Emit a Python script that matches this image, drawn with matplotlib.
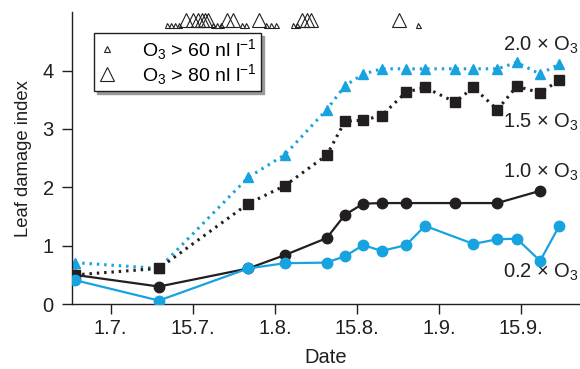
"""Leaf damage index vs date for four ozone treatments (recreated figure)."""
import numpy as np
import matplotlib
matplotlib.use("Agg")
import matplotlib.pyplot as plt
import matplotlib.transforms as mtransforms
from matplotlib.lines import Line2D

plt.rcParams["font.family"] = ["Liberation Sans", "DejaVu Sans"]
plt.rcParams["mathtext.fontset"] = "custom"
plt.rcParams["mathtext.rm"] = "Liberation Sans"
plt.rcParams["mathtext.it"] = "Liberation Sans:italic"

# ── data ──────────────────────────────────────────────────────────────────────
# x positions in half-month units (0 = 1.7., 1 = 15.7., ...)
TICK_LABELS = ["1.7.", "15.7.", "1.8.", "15.8.", "1.9.", "15.9."]

X_ALL = [-0.435, 0.588, 1.676, 2.123, 2.631, 2.854, 3.077, 3.301,
         3.597, 3.828, 4.194, 4.417, 4.709, 4.945, 5.229, 5.460]

Y_20 = [0.71, 0.61, 2.17, 2.56, 3.33, 3.74, 3.94, 4.03,
        4.03, 4.03, 4.03, 4.03, 4.03, 4.14, 3.94, 4.11]
Y_15 = [0.50, 0.61, 1.72, 2.03, 2.55, 3.13, 3.15, 3.23,
        3.63, 3.71, 3.46, 3.71, 3.33, 3.73, 3.62, 3.83]

X_10 = [-0.435, 0.588, 1.676, 2.123, 2.631, 2.854, 3.077, 3.301,
        3.597, 4.194, 4.709, 5.229]
Y_10 = [0.50, 0.30, 0.61, 0.84, 1.13, 1.53, 1.72, 1.73,
        1.73, 1.73, 1.73, 1.94]

X_02 = [-0.435, 0.588, 1.676, 2.123, 2.631, 2.854, 3.077, 3.301,
        3.597, 3.828, 4.417, 4.709, 4.945, 5.229, 5.460]
Y_02 = [0.41, 0.06, 0.61, 0.70, 0.71, 0.82, 1.01, 0.91,
        1.01, 1.34, 1.03, 1.11, 1.12, 0.74, 1.33]

# days with ozone exceedances
O3_60 = [0.682, 0.731, 0.780, 0.828, 1.250, 1.298, 1.347, 1.596, 1.648,
         1.892, 1.953, 2.014, 2.224, 2.273, 3.747]
O3_80 = [0.917, 1.006, 1.067, 1.108, 1.149, 1.189, 1.413, 1.493, 1.810,
         2.326, 2.387, 2.436, 3.515]

CYAN = "#17a2e0"
DARK = "#231f20"
FS = 14.5

fig = plt.figure(figsize=(5.8, 3.69), dpi=100)
ax = fig.add_axes([0.124, 0.176, 0.876, 0.791])

dot = (0, (0.8, 1.6))
ax.plot(X_ALL, Y_20, color=CYAN, lw=2.2, ls=dot, marker="^", ms=7.5,
        mec=CYAN, mfc=CYAN, zorder=2)
ax.plot(X_ALL, Y_15, color=DARK, lw=2.2, ls=dot, marker="s", ms=6.5,
        mec=DARK, mfc=DARK, zorder=3)
ax.plot(X_10, Y_10, color=DARK, lw=1.6, marker="o", ms=7.5,
        mec=DARK, mfc=DARK, zorder=4)
ax.plot(X_02, Y_02, color=CYAN, lw=1.6, marker="o", ms=7.5,
        mec=CYAN, mfc=CYAN, zorder=5)

# ozone exceedance markers along the top
trans = mtransforms.blended_transform_factory(ax.transData, ax.transAxes)
ax.plot(O3_60, [0.957] * len(O3_60), ls="none", marker="^", ms=3.6,
        mfc="white", mec=DARK, mew=0.8, transform=trans, clip_on=False)
ax.plot(O3_80, [0.974] * len(O3_80), ls="none", marker="^", ms=10,
        mfc="none", mec=DARK, mew=0.8, transform=trans, clip_on=False)

# series labels
lab_kw = dict(ha="right", va="center", fontsize=FS, color=DARK)
ax.text(5.70, 4.43, "2.0 × O$_3$", **lab_kw)
ax.text(5.70, 3.11, "1.5 × O$_3$", **lab_kw)
ax.text(5.70, 2.26, "1.0 × O$_3$", **lab_kw)
ax.text(5.70, 0.55, "0.2 × O$_3$", **lab_kw)

handles = [
    Line2D([], [], ls="none", marker="^", ms=5, mfc="white", mec=DARK, mew=0.8),
    Line2D([], [], ls="none", marker="^", ms=10, mfc="white", mec=DARK, mew=0.8),
]
leg = ax.legend(handles, ["O$_3$ > 60 nl l$^{-1}$", "O$_3$ > 80 nl l$^{-1}$"],
                loc="upper left", bbox_to_anchor=(0.043, 0.928),
                fontsize=14, frameon=True, fancybox=False,
                shadow={"color": "#9a9a9a", "alpha": 1},
                handlelength=1.0, handletextpad=1.3, borderpad=0.2,
                labelspacing=0.0, borderaxespad=0)
leg.get_frame().set_edgecolor(DARK)
leg.get_frame().set_linewidth(1.0)

ax.set_xlim(-0.471, 5.715)
ax.set_ylim(0, 5)
ax.set_xticks(range(len(TICK_LABELS)))
ax.set_xticklabels(TICK_LABELS)
ax.set_yticks([0, 1, 2, 3, 4])
ax.tick_params(axis="both", labelsize=FS, colors=DARK, length=7, width=1.0)
ax.tick_params(axis="y", pad=6)
ax.tick_params(axis="x", pad=4)
for side in ("top", "right"):
    ax.spines[side].set_visible(False)
for side in ("left", "bottom"):
    ax.spines[side].set_color(DARK)
    ax.spines[side].set_linewidth(1.0)

ax.set_xlabel("Date", fontsize=FS, color=DARK)
ax.set_ylabel("Leaf damage index", fontsize=13.3, color=DARK)
ax.xaxis.set_label_coords(0.5, -0.15)
ax.yaxis.set_label_coords(-0.078, 0.5)

fig.savefig("out.png", dpi=100)
